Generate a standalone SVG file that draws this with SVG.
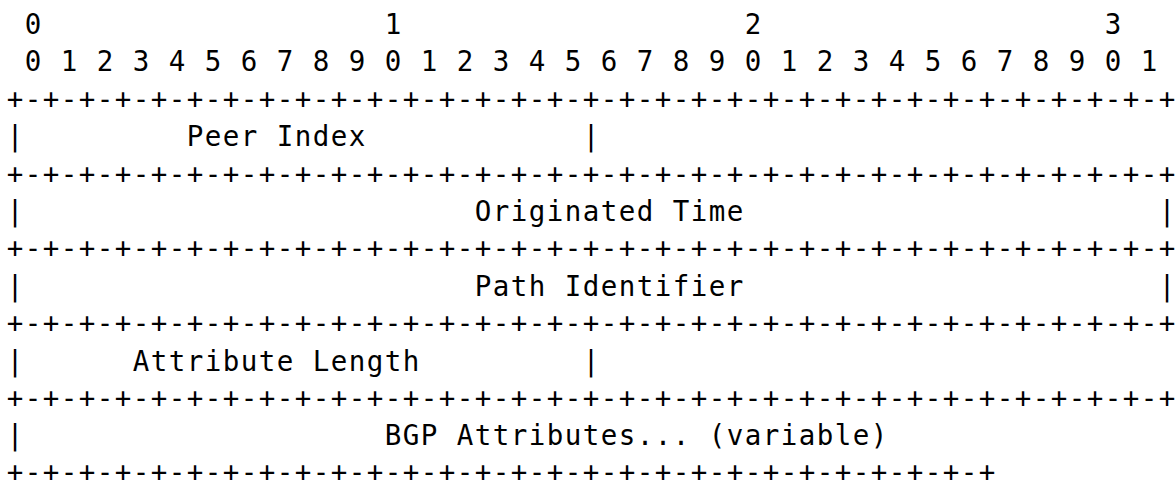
<svg xmlns="http://www.w3.org/2000/svg" width="1175" height="482" viewBox="0 0 1175 482">
<style>
.t{font-family:"DejaVu Sans Mono","Liberation Mono",monospace;font-size:27.5px;letter-spacing:1.444px;fill:#000;white-space:pre}
</style>
<rect width="1175" height="482" fill="#fff"/>
<g id="ruler" transform="translate(0.7,0)">
<text class="t" x="24" y="34">0</text>
<text class="t" x="384" y="34">1</text>
<text class="t" x="744" y="34">2</text>
<text class="t" x="1104" y="34">3</text>
<text class="t" x="24" y="71.4" xml:space="preserve">0 1 2 3 4 5 6 7 8 9 0 1 2 3 4 5 6 7 8 9 0 1 2 3 4 5 6 7 8 9 0 1</text>
</g>
<g id="connectors" transform="translate(0.7,0)">
<text class="t" x="6" y="108.8">+-+-+-+-+-+-+-+-+-+-+-+-+-+-+-+-+-+-+-+-+-+-+-+-+-+-+-+-+-+-+-+-+</text>
<text class="t" x="6" y="183.6">+-+-+-+-+-+-+-+-+-+-+-+-+-+-+-+-+-+-+-+-+-+-+-+-+-+-+-+-+-+-+-+-+</text>
<text class="t" x="6" y="258.4">+-+-+-+-+-+-+-+-+-+-+-+-+-+-+-+-+-+-+-+-+-+-+-+-+-+-+-+-+-+-+-+-+</text>
<text class="t" x="6" y="333.2">+-+-+-+-+-+-+-+-+-+-+-+-+-+-+-+-+-+-+-+-+-+-+-+-+-+-+-+-+-+-+-+-+</text>
<text class="t" x="6" y="408">+-+-+-+-+-+-+-+-+-+-+-+-+-+-+-+-+-+-+-+-+-+-+-+-+-+-+-+-+-+-+-+-+</text>
<text class="t" x="6" y="481.5">+-+-+-+-+-+-+-+-+-+-+-+-+-+-+-+-+-+-+-+-+-+-+-+-+-+-+-+</text>
</g>
<g id="peer-index" transform="translate(0.7,0)">
<text class="t" x="6" y="146.2">|</text>
<text class="t" x="186" y="146.2">Peer Index</text>
<text class="t" x="582" y="146.2">|</text>
</g>
<g id="originated-time" transform="translate(0.7,0)">
<text class="t" x="6" y="221">|</text>
<text class="t" x="474" y="221">Originated Time</text>
<text class="t" x="1158" y="221">|</text>
</g>
<g id="path-identifier" transform="translate(0.7,0)">
<text class="t" x="6" y="295.8">|</text>
<text class="t" x="474" y="295.8">Path Identifier</text>
<text class="t" x="1158" y="295.8">|</text>
</g>
<g id="attribute-length" transform="translate(0.7,0)">
<text class="t" x="6" y="370.6">|</text>
<text class="t" x="132" y="370.6">Attribute Length</text>
<text class="t" x="582" y="370.6">|</text>
</g>
<g id="bgp-attributes" transform="translate(0.7,0)">
<text class="t" x="6" y="445.4">|</text>
<text class="t" x="384" y="445.4">BGP Attributes... (variable)</text>
</g>
</svg>
